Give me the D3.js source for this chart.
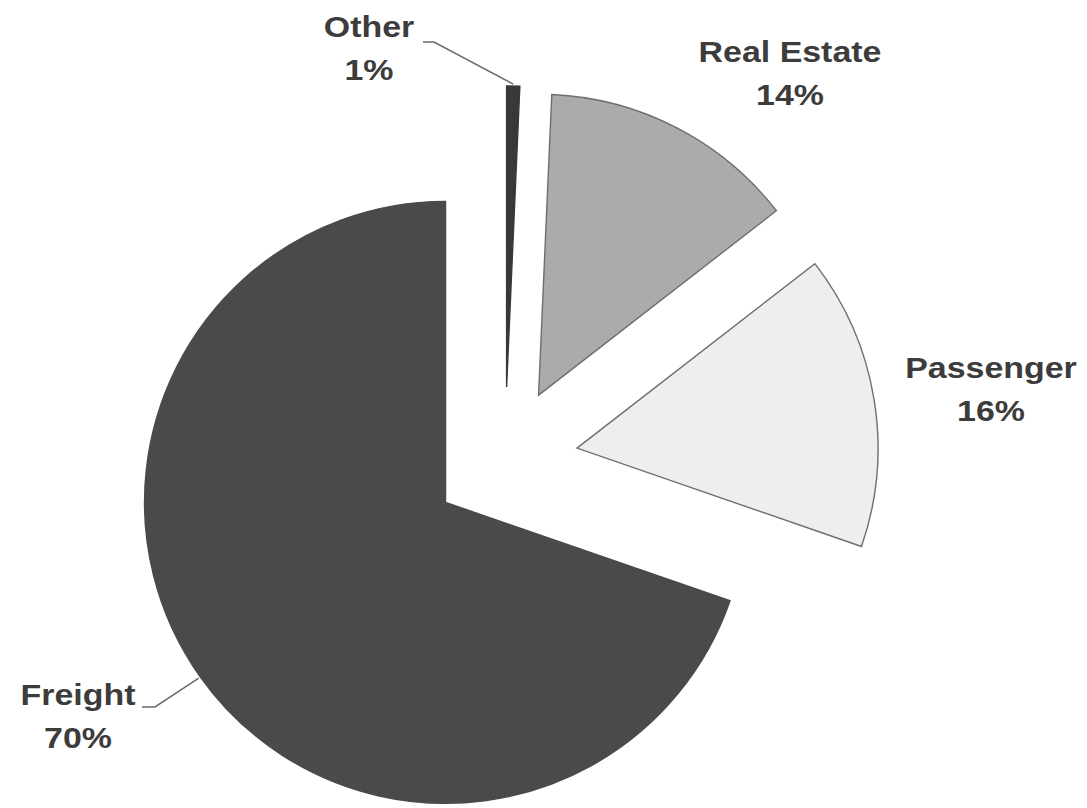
<!DOCTYPE html>
<html>
<head>
<meta charset="utf-8">
<script src="https://cdn.jsdelivr.net/npm/d3@7"></script>
<style>
  html, body { margin: 0; padding: 0; background: #ffffff; }
  svg { display: block; }
  .lbl { font-family: "Liberation Sans", Arial, Helvetica, sans-serif; font-weight: bold; font-size: 29px; fill: #3c3c3c; }
</style>
</head>
<body>
<svg id="chart" width="1087" height="808"></svg>
<script>
// Revenue mix by segment, drawn clockwise from 12 o'clock
const categories = ["Other", "Real Estate", "Passenger", "Freight"];
const shares = [0.7, 13.8, 15.8, 69.7];
const fills = ["#383838", "#ababab", "#eeeeee", "#4a4a4a"];
const strokes = ["#383838", "#6e6e6e", "#6e6e6e", "#4a4a4a"];

// Layout
const W = 1087, H = 808;
const cx = 505, cy = 460;      // pie centre before exploding
const radius = 301;
const explode = 73;             // every slice pulled out along its bisector

// Label placement (centre x, first baseline y) and optional leader elbow
const labelLayout = {
  "Other":       { x: 369, y: 37,  elbow: [[423, 42], [434, 42]] },
  "Real Estate": { x: 790, y: 62 },
  "Passenger":   { x: 991, y: 378 },
  "Freight":     { x: 78,  y: 705, elbow: [[142, 707], [155, 707]] }
};
const lineGap = 43;
const textStretch = 1.17;

const svg = d3.select("#chart");
const total = d3.sum(shares);
const data = categories.map((c, i) => ({ name: c, value: shares[i], fill: fills[i], stroke: strokes[i] }));

const pie = d3.pie().sort(null).value(d => d.value).startAngle(0).endAngle(2 * Math.PI);
const arcs = pie(data);
const arc = d3.arc().innerRadius(0).outerRadius(radius);

const offset = a => {
  const mid = (a.startAngle + a.endAngle) / 2;
  return [explode * Math.sin(mid), -explode * Math.cos(mid)];
};

const g = svg.append("g").attr("transform", `translate(${cx},${cy})`);

g.selectAll("path.slice")
  .data(arcs)
  .join("path")
  .attr("class", "slice")
  .attr("transform", d => { const o = offset(d); return `translate(${o[0]},${o[1]})`; })
  .attr("d", arc)
  .attr("fill", d => d.data.fill)
  .attr("stroke", d => d.data.stroke)
  .attr("stroke-width", 1.4)
  .attr("stroke-linejoin", "miter");

// Leader lines from the arc midpoint to the label elbow
arcs.forEach(a => {
  const lay = labelLayout[a.data.name];
  if (!lay.elbow) return;
  const mid = (a.startAngle + a.endAngle) / 2;
  const o = offset(a);
  const rr = radius + 2;
  const p = [cx + o[0] + rr * Math.sin(mid), cy + o[1] - rr * Math.cos(mid)];
  const pts = lay.elbow.concat([p]);
  svg.append("path")
    .attr("d", d3.line()(pts))
    .attr("fill", "none")
    .attr("stroke", "#6a6a6a")
    .attr("stroke-width", 1.5);
});

// Category name and rounded share
arcs.forEach(a => {
  const lay = labelLayout[a.data.name];
  const pct = Math.round(a.data.value / total * 100) + "%";
  [a.data.name, pct].forEach((t, k) => {
    svg.append("text")
      .attr("class", "lbl")
      .attr("text-anchor", "middle")
      .attr("transform", `translate(${lay.x},${lay.y + k * lineGap}) scale(${textStretch},1)`)
      .text(t);
  });
});
</script>
</body>
</html>
